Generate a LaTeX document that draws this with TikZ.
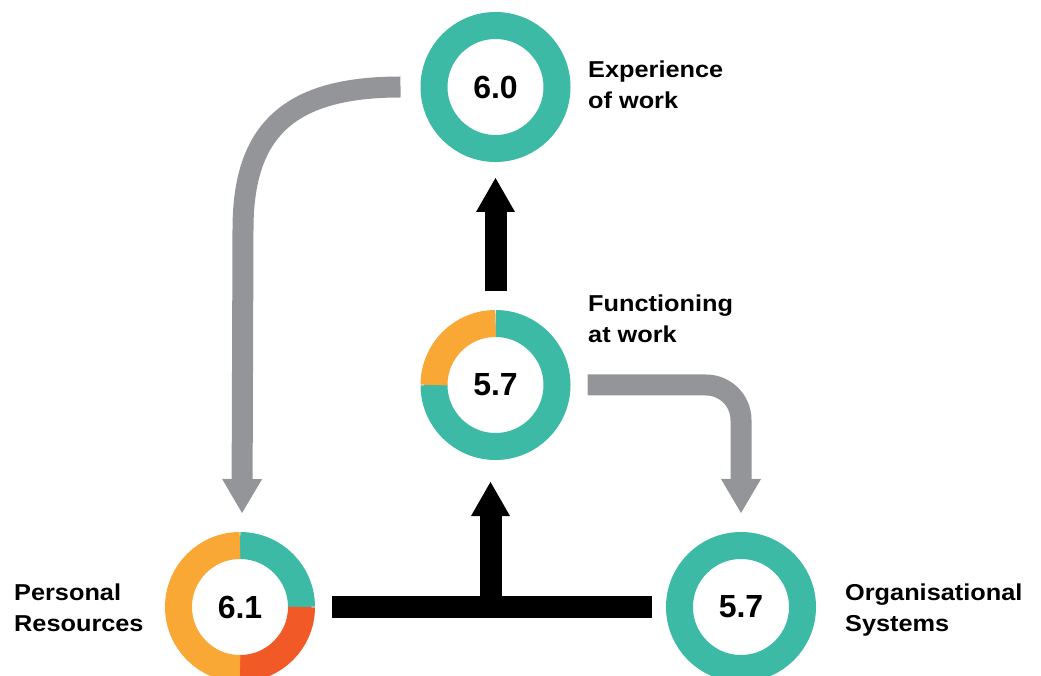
\documentclass[tikz,border=0pt]{standalone}
\usepackage{fontspec}
\setmainfont{Liberation Sans}
\newfontfamily\labelfont[FakeStretch=1.1]{Liberation Sans}
\usetikzlibrary{arrows.meta,calc}
\definecolor{teal1}{HTML}{3DBAA5}
\definecolor{orange1}{HTML}{F9A735}
\definecolor{red1}{HTML}{F15A27}
\definecolor{grey1}{HTML}{939598}
\begin{document}
\begin{tikzpicture}[x=1pt,y=1pt,
  donut/.style={circle, minimum size=150pt, inner sep=0pt, outer sep=0pt,
    font=\fontsize{32}{36}\selectfont\bfseries},
  ring/.style={line width=27pt},
  lbl/.style={anchor=base west, align=left, inner sep=0pt,
    font=\labelfont\bfseries\fontsize{23}{31}\selectfont},
  greyarrow/.style={draw=grey1, line width=21pt,
    -{Triangle[length=34pt 0 0, width=40pt 0 0, line width=0pt]}},
  blackarrow/.style={draw=black, line width=22pt,
    -{Triangle[length=34pt 0 0, width=39pt 0 0, line width=0pt]}},
  blackbar/.style={draw=black, line width=22pt}
]
\clip (0,0) rectangle (1041,675);

% donuts
\node[donut] (ew) at (495.5,588) {6.0};
\node[donut] (fw) at (495.5,290) {5.7};
\node[donut] (pr) at (240,68) {6.1};
\node[donut] (os) at (741,68) {5.7};

\draw[ring, teal1] (ew.center) circle[radius=61.5];
\draw[ring, teal1] (os.center) circle[radius=61.5];
\draw[ring, teal1] (fw.center) ++(90:61.5) arc[start angle=90, end angle=-180, radius=61.5];
\draw[ring, orange1] (fw.center) ++(90:61.5) arc[start angle=90, end angle=180, radius=61.5];
\draw[ring, teal1] (pr.center) ++(90:61.5) arc[start angle=90, end angle=0, radius=61.5];
\draw[ring, red1] (pr.center) ++(0:61.5) arc[start angle=0, end angle=-90, radius=61.5];
\draw[ring, orange1] (pr.center) ++(-90:61.5) arc[start angle=-90, end angle=-270, radius=61.5];

% labels (anchor = baseline of the last line)
\node[lbl] (lew) at (588,566) {Experience\\of work};
\node[lbl] (lfw) at (588,332) {Functioning\\at work};
\node[lbl] (lpr) at (14,44) {Personal\\Resources};
\node[lbl] (los) at (845,44) {Organisational\\Systems};

% connectors
\coordinate (g1s) at ([xshift=-20pt]ew.west);
\coordinate (g1e) at ($(pr.north)+(2,19)$);
\draw[greyarrow] (g1s) .. controls ($(g1s)+(-110,0)$) and ($(g1e)+(1,384)$) .. ($(g1e)+(1,284)$) -- (g1e);

\coordinate (g2s) at ([xshift=17pt]fw.east);
\coordinate (g2e) at ([yshift=19pt]os.north);
\draw[greyarrow, rounded corners=35pt] (g2s) -- (g2s -| g2e) -- (g2e);

\draw[blackarrow] ([yshift=19pt]fw.north) -- ([yshift=-16pt]ew.south);

\coordinate (tj) at ($(pr.center)!.5!(os.center)$);
\draw[blackbar] ([xshift=17pt]pr.east) -- ([xshift=-14pt]os.west);
\draw[blackarrow] (tj) -- ($(tj |- fw.south)+(0,-22)$);
\end{tikzpicture}
\end{document}
